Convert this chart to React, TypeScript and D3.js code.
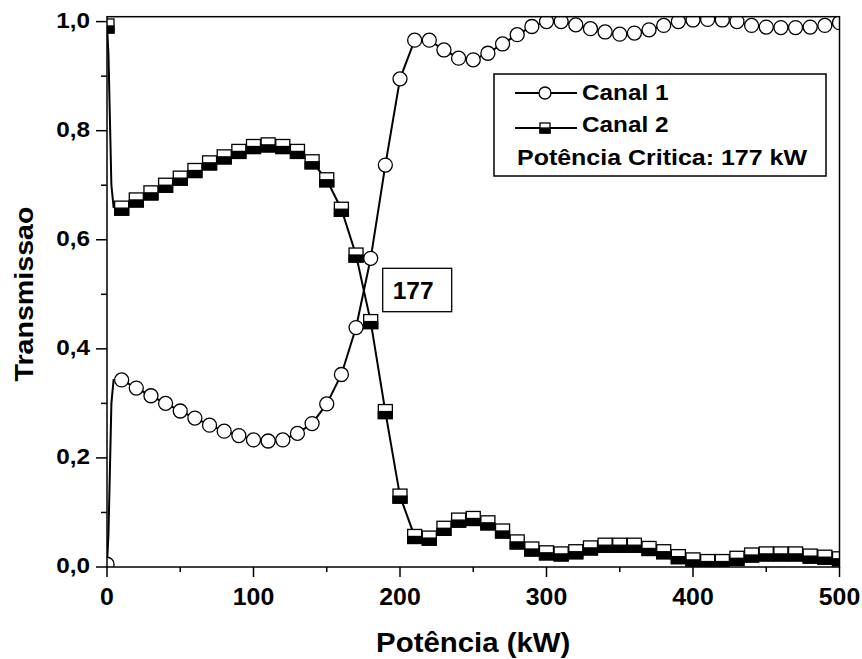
import React from "react";
import * as d3 from "d3";

const powerKW = [
  0, 10, 20, 30, 40, 50, 60, 70, 80, 90, 100, 110, 120, 130, 140, 150, 160, 170, 180, 190,
  200, 210, 220, 230, 240, 250, 260, 270, 280, 290, 300, 310, 320, 330, 340, 350, 360, 370, 380, 390,
  400, 410, 420, 430, 440, 450, 460, 470, 480, 490, 500,
];

const canal1 = [
  0.005, 0.343, 0.328, 0.314, 0.3, 0.286, 0.273, 0.26, 0.249, 0.241, 0.233, 0.231, 0.233, 0.245, 0.263, 0.299, 0.353, 0.439, 0.566, 0.737,
  0.895, 0.966, 0.966, 0.948, 0.933, 0.93, 0.942, 0.959, 0.976, 0.991, 1.0, 1.0, 0.994, 0.987, 0.981, 0.977, 0.979, 0.985, 0.993, 1.0,
  1.003, 1.004, 1.003, 1.0, 0.993, 0.99, 0.989, 0.989, 0.99, 0.993, 0.998,
];

const canal2 = [
  0.992, 0.658, 0.673, 0.686, 0.7, 0.713, 0.727, 0.741, 0.752, 0.762, 0.771, 0.774, 0.771, 0.762, 0.743, 0.71, 0.656, 0.572, 0.45, 0.285,
  0.13, 0.056, 0.053, 0.071, 0.086, 0.089, 0.081, 0.066, 0.046, 0.033, 0.026, 0.024, 0.028, 0.035, 0.04, 0.04, 0.04, 0.034, 0.028, 0.019,
  0.013, 0.01, 0.01, 0.016, 0.022, 0.024, 0.024, 0.024, 0.02, 0.018, 0.015,
];

// steep start between 0 and 10 kW (line only, no markers)
const rampKW = [1, 2, 3, 4.5];
const rampCanal1 = [0.06, 0.18, 0.3, 0.343];
const rampCanal2 = [0.94, 0.82, 0.7, 0.66];

const xTicksMajor = [0, 100, 200, 300, 400, 500];
const xTicksMinor = [50, 150, 250, 350, 450];
const yTicksMajor = [0, 0.2, 0.4, 0.6, 0.8, 1.0];
const yTicksMinor = [0.1, 0.3, 0.5, 0.7, 0.9];

const seriesNames = ["Canal 1", "Canal 2"];
const criticalText = "Potência Critica: 177 kW";
const criticalValue = "177";
const xTitle = "Potência (kW)";
const yTitle = "Transmissao";

const FONT = "'Liberation Sans', Arial, sans-serif";

export default function App() {
  const left = 107, right = 839.5, top = 16.7, bottom = 567;
  const x = d3.scaleLinear().domain([0, 500]).range([left, right]);
  const y = d3.scaleLinear().domain([0, 1.009]).range([bottom, top]);

  const fmtY = (v: number) => v.toFixed(1).replace(".", ",");

  const build = (vals: number[], ramp: number[]) => {
    const pts: [number, number][] = [[powerKW[0], vals[0]]];
    rampKW.forEach((k, i) => pts.push([k, ramp[i]]));
    for (let i = 1; i < powerKW.length; i++) pts.push([powerKW[i], vals[i]]);
    return pts;
  };
  const line = d3
    .line<[number, number]>()
    .x((d) => x(d[0]))
    .y((d) => y(d[1]));

  const path1 = line(build(canal1, rampCanal1)) || "";
  const path2 = line(build(canal2, rampCanal2)) || "";

  const R = 7;
  const S = 14;

  return (
    <svg
      width={862}
      height={659}
      style={{ position: "absolute", left: 0, top: 0, background: "#fff" }}
      fontFamily={FONT}
      fontWeight="bold"
    >
      <rect x={0} y={0} width={862} height={659} fill="#fff" />
      <defs>
        <clipPath id="plotClip">
          <rect x={left} y={top} width={right - left} height={bottom - top} />
        </clipPath>
      </defs>

      <g clipPath="url(#plotClip)">
        <path d={path1} fill="none" stroke="#000" strokeWidth={2} />
        {powerKW.map((k, i) => (
          <circle key={"c" + i} cx={x(k)} cy={y(canal1[i])} r={R} fill="#fff" stroke="#000" strokeWidth={1.3} />
        ))}
        <path d={path2} fill="none" stroke="#000" strokeWidth={2} />
        {powerKW.map((k, i) => (
          <g key={"s" + i}>
            <rect x={x(k) - S / 2} y={y(canal2[i]) - S / 2} width={S} height={S} fill="#fff" stroke="#000" strokeWidth={1.3} />
            <rect x={x(k) - S / 2} y={y(canal2[i])} width={S} height={S / 2} fill="#000" stroke="#000" strokeWidth={1.3} />
          </g>
        ))}
      </g>

      {/* frame */}
      <rect x={left} y={top} width={right - left} height={bottom - top} fill="none" stroke="#000" strokeWidth={1.5} />

      {/* x ticks */}
      {xTicksMajor.map((t) => (
        <g key={"xt" + t}>
          <line x1={x(t)} x2={x(t)} y1={bottom} y2={bottom + 10} stroke="#000" strokeWidth={1.5} />
          <text
            transform={`translate(${x(t)},605) scale(1.08,1)`}
            textAnchor="middle"
            fontSize={23}
          >
            {t}
          </text>
        </g>
      ))}
      {xTicksMinor.map((t) => (
        <line key={"xm" + t} x1={x(t)} x2={x(t)} y1={bottom} y2={bottom + 5} stroke="#000" strokeWidth={1.5} />
      ))}

      {/* y ticks */}
      {yTicksMajor.map((t) => (
        <g key={"yt" + t}>
          <line x1={left - 11} x2={left} y1={y(t)} y2={y(t)} stroke="#000" strokeWidth={1.5} />
          <text
            transform={`translate(90,${y(t) + 6}) scale(1.08,1)`}
            textAnchor="end"
            fontSize={22.5}
          >
            {fmtY(t)}
          </text>
        </g>
      ))}
      {yTicksMinor.map((t) => (
        <line key={"ym" + t} x1={left - 6} x2={left} y1={y(t)} y2={y(t)} stroke="#000" strokeWidth={1.5} />
      ))}

      {/* axis titles */}
      <text transform={`translate(${(left + right) / 2},652) scale(1.05,1)`} textAnchor="middle" fontSize={28}>
        {xTitle}
      </text>
      <text transform={`translate(33,294) rotate(-90) scale(1.1,1)`} textAnchor="middle" fontSize={26}>
        {yTitle}
      </text>

      {/* legend */}
      <rect x={494} y={74} width={332} height={102} fill="#fff" stroke="#000" strokeWidth={1.5} />
      <line x1={515} x2={577} y1={93} y2={93} stroke="#000" strokeWidth={2} />
      <circle cx={545} cy={93} r={6} fill="#fff" stroke="#000" strokeWidth={1.3} />
      <text transform={`translate(582,100) scale(1.08,1)`} fontSize={22.5}>
        {seriesNames[0]}
      </text>
      <line x1={515} x2={577} y1={128} y2={128} stroke="#000" strokeWidth={2} />
      <rect x={540} y={123} width={10} height={10} fill="#fff" stroke="#000" strokeWidth={1.3} />
      <rect x={540} y={128} width={10} height={5} fill="#000" stroke="#000" strokeWidth={1.3} />
      <text transform={`translate(582,132) scale(1.08,1)`} fontSize={22.5}>
        {seriesNames[1]}
      </text>
      <text x={517} y={165} fontSize={22.5} textLength={290} lengthAdjust="spacingAndGlyphs">
        {criticalText}
      </text>

      {/* 177 annotation */}
      <rect x={382.7} y={268.3} width={69} height={43.4} fill="#fff" stroke="#000" strokeWidth={1.3} />
      <text x={392.7} y={298.5} fontSize={24.5}>
        {criticalValue}
      </text>
    </svg>
  );
}
